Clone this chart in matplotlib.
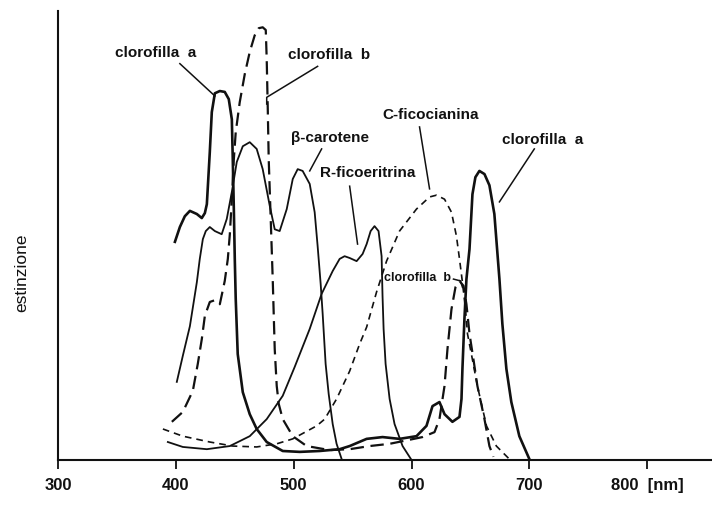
import matplotlib
matplotlib.use("Agg")
import matplotlib.pyplot as plt

plt.rcParams['font.family'] = ['Liberation Sans', 'DejaVu Sans']
plt.rcParams['lines.solid_joinstyle'] = 'round'
plt.rcParams['lines.dash_joinstyle'] = 'round'

INK = "#111111"

# clorofilla a (solid, thick)
chla_nm = [399.2, 403.4, 407.6, 411.9, 417.8, 422.0, 424.6, 426.3, 428.8, 430.5,
           433.1, 437.3, 441.5, 444.9, 447.5, 448.3, 449.2, 450.0, 450.8, 452.5,
           456.8, 462.7, 468.6, 477.1, 490.7, 505.1, 522.0, 539.0, 547.5, 561.9,
           575.4, 589.8, 604.2, 612.7, 617.8, 623.7, 628.0, 634.7, 640.7, 642.4,
           643.2, 644.9, 646.6, 649.2, 651.7, 654.2, 657.6, 661.9, 666.1, 670.3,
           674.6, 677.1, 680.5, 684.7, 691.5, 700.0]
chla_ext = [48.6, 51.9, 54.3, 55.5, 54.8, 53.9, 55.0, 57.0, 68.6, 77.5,
            81.7, 82.2, 82.0, 80.4, 75.9, 67.0, 55.9, 44.8, 35.9, 23.6,
            15.1, 10.2, 6.9, 4.0, 2.0, 1.8, 2.0, 2.4, 3.1, 4.7,
            5.1, 4.7, 5.3, 7.6, 12.0, 12.9, 10.2, 8.5, 9.6, 13.6,
            20.3, 31.4, 40.3, 47.0, 59.2, 63.0, 64.4, 63.7, 61.2, 54.8,
            40.3, 30.3, 20.3, 12.9, 5.3, 0.2]

# clorofilla b (long dashes)
chlb_nm = [396.6, 405.9, 414.4, 418.6, 422.0, 424.6, 428.8, 433.1, 437.3, 441.5,
           444.1, 445.8, 447.5, 449.2, 450.8, 454.2, 458.5, 462.7, 466.9, 470.3,
           473.7, 476.3, 477.1, 478.0, 478.8, 480.5, 482.2, 483.9, 485.6, 487.3,
           490.7, 499.2, 511.0, 530.5, 547.5, 564.4, 581.4, 598.3, 609.3, 619.5,
           623.7, 628.0, 630.5, 633.9, 637.3, 640.7, 644.1, 646.6, 649.2, 652.5,
           655.9, 661.9, 666.1, 669.5]
chlb_ext = [8.5, 10.7, 15.4, 21.4, 26.9, 32.1, 35.2, 35.6, 34.7, 39.9,
            44.8, 50.3, 58.1, 67.0, 73.0, 79.7, 86.0, 90.9, 94.6, 96.2,
            96.4, 95.8, 89.3, 78.2, 67.0, 53.7, 40.3, 24.7, 16.5, 12.5,
            9.1, 5.3, 3.1, 2.2, 2.4, 3.1, 3.6, 4.5, 5.1, 6.2,
            9.1, 16.5, 24.7, 33.6, 38.5, 39.9, 38.8, 34.7, 28.1, 22.5,
            16.5, 9.1, 3.1, 0.7]

# beta-carotene (solid)
bcar_nm = [400.8, 405.9, 411.9, 417.8, 420.3, 422.9, 425.4, 428.8, 433.1, 438.9,
           443.2, 447.5, 451.7, 456.8, 462.7, 468.6, 473.7, 479.7, 483.9, 488.1,
           494.1, 499.2, 503.4, 507.6, 513.6, 517.8, 520.3, 522.9, 524.6, 527.1,
           529.7, 533.1, 536.4, 540.7]
bcar_ext = [17.4, 23.2, 29.8, 39.6, 44.8, 49.2, 51.0, 51.9, 51.0, 50.3,
            53.7, 59.7, 66.4, 69.9, 70.8, 69.3, 64.8, 56.6, 51.4, 51.0,
            55.9, 62.6, 64.8, 64.4, 61.5, 55.2, 47.7, 39.2, 32.5, 21.4,
            14.7, 8.0, 3.6, 0.2]

# R-ficoeritrina (solid)
rfe_nm = [393.2, 405.9, 426.3, 445.8, 462.7, 477.1, 490.7, 500.8, 513.6, 523.7,
          533.1, 539.0, 543.2, 547.5, 553.4, 558.5, 561.9, 565.3, 568.6, 572.0,
          574.6, 575.4, 576.3, 578.0, 581.4, 585.6, 592.4, 600.0]
rfe_ext = [4.0, 2.9, 2.4, 3.1, 5.3, 9.1, 14.3, 20.7, 29.2, 37.0,
           42.1, 44.8, 45.4, 45.0, 44.3, 45.9, 48.1, 51.0, 52.1, 51.0,
           45.4, 36.5, 29.2, 21.4, 13.6, 8.0, 3.1, 0.0]

# C-ficocianina (short dashes)
cfc_nm = [389.0, 405.9, 428.8, 448.3, 468.6, 485.6, 499.2, 519.5, 526.3, 536.4,
          547.5, 555.9, 561.9, 570.3, 578.8, 589.8, 604.2, 615.3, 621.2, 628.0,
          633.9, 638.1, 640.7, 643.2, 645.8, 647.5, 650.8, 655.9, 663.6, 672.0,
          683.0]
cfc_ext = [6.9, 5.3, 4.0, 3.1, 2.9, 3.6, 4.7, 7.6, 9.1, 13.6,
           19.8, 25.8, 29.6, 37.4, 44.3, 51.0, 55.9, 58.6, 59.0, 58.1,
           55.2, 49.9, 44.8, 39.6, 33.6, 28.1, 23.6, 16.5, 7.6, 3.1,
           0.2]

xticks = [300, 400, 500, 600, 700, 800]
xtick_labels = ['300', '400', '500', '600', '700', '800  [nm]']

fig = plt.figure(figsize=(7.12, 5.06), dpi=100)
ax = fig.add_axes([0.0815, 0.089, 0.9185, 0.887])

ax.plot(chla_nm, chla_ext, color=INK, lw=1.9)
ax.plot(chlb_nm, chlb_ext, color=INK, lw=1.6, dashes=(6, 3))
ax.plot(bcar_nm, bcar_ext, color=INK, lw=1.3)
ax.plot(rfe_nm, rfe_ext, color=INK, lw=1.3)
ax.plot(cfc_nm, cfc_ext, color=INK, lw=1.2, dashes=(4, 3))

# labels with leader lines
tkw = dict(fontsize=11, fontweight='bold', color=INK, ha='center', va='center')
lkw = dict(color=INK, lw=1.1)

ax.text(383.1, 90.9, 'clorofilla  a', **tkw)
ax.plot([403.4, 433.1], [88.3, 81.1], **lkw)

ax.text(529.7, 90.4, 'clorofilla  b', **tkw)
ax.plot([520.3, 477.1, 477.1], [87.7, 80.8, 79.3], **lkw)

ax.text(530.5, 71.9, 'β-carotene', **tkw)
ax.plot([523.7, 513.6], [69.3, 64.4], **lkw)

ax.text(563.1, 64.1, 'R-ficoeritrina', **tkw)
ax.plot([547.5, 554.2], [61.0, 48.1], **lkw)

ax.text(616.5, 77.1, 'C-ficocianina', **tkw)
ax.plot([606.8, 615.3], [74.2, 60.4], **lkw)

ax.text(711.0, 71.5, 'clorofilla  a', **tkw)
ax.plot([704.2, 674.6], [69.3, 57.5], **lkw)

ax.text(605.1, 40.8, 'clorofilla  b', fontsize=9, fontweight='bold', color=INK,
        ha='center', va='center')
ax.plot([635.6, 641.5, 643.2], [40.3, 39.9, 38.5], **lkw)

ax.set_xlim(300, 855)
ax.set_ylim(0, 100)
ax.set_xticks(xticks)
ax.set_xticklabels(xtick_labels, fontsize=12, fontweight='bold')
ax.set_yticks([])
ax.tick_params(axis='x', direction='out', length=6.5, width=1.3, pad=6, colors=INK)
for side in ['top', 'right']:
    ax.spines[side].set_visible(False)
for side in ['left', 'bottom']:
    ax.spines[side].set_linewidth(1.5)
    ax.spines[side].set_color(INK)

fig.text(0.031, 0.46, 'estinzione', rotation=90, fontsize=12.5, color=INK,
         ha='center', va='center')

fig.savefig('out.png', dpi=100)
